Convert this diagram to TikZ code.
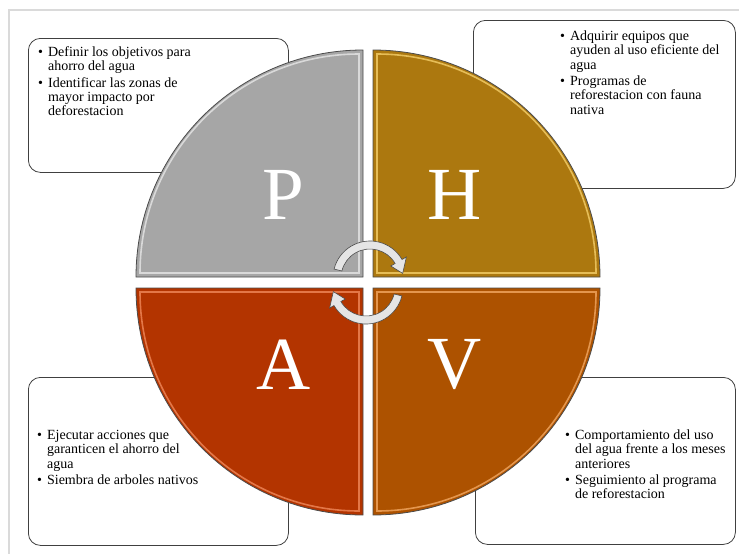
\documentclass[tikz,border=0pt]{standalone}
\usepackage{fontspec}
\setmainfont{Liberation Serif}
\usetikzlibrary{calc}

\definecolor{planC}{HTML}{A6A6A6}
\definecolor{planL}{HTML}{E6E6E6}
\definecolor{doC}{HTML}{AC780F}
\definecolor{doL}{HTML}{F5CF6A}
\definecolor{actC}{HTML}{B33400}
\definecolor{actL}{HTML}{F0885A}
\definecolor{checkC}{HTML}{AD5200}
\definecolor{checkL}{HTML}{F2A862}
\definecolor{frameC}{HTML}{DADADA}

\tikzset{
  note/.style={draw=black!75, line width=0.8pt, rounded corners=12pt, fill=white},
  notetext/.style={anchor=north west, inner sep=0pt, align=left,
    font=\fontsize{14}{14.4}\selectfont},
  letter/.style={text=white, inner sep=0pt, font=\fontsize{75}{75}\selectfont},
  quarter/.style={draw=black!70, line width=0.8pt},
  rim/.style={line width=1.6pt, draw opacity=0.8},
  turn/.style={draw=black!70, line width=0.6pt, fill=black!10},
}

\begin{document}
\begin{tikzpicture}[x=1pt,y=1pt]
   \useasboundingbox (0,0) rectangle (739,-554);
   \draw[frameC, line width=1.5pt] (9,-554) -- (9,-10) -- (739,-10);

   % boxes
   \node[note, anchor=north west, minimum width=260, minimum height=134] (boxP) at (28,-38) {};
   \node[note, anchor=north west, minimum width=262, minimum height=168] (boxH) at (473,-20) {};
   \node[note, anchor=north west, minimum width=260, minimum height=168] (boxA) at (28,-377) {};
   \node[note, anchor=north west, minimum width=260, minimum height=167] (boxV) at (475,-377) {};

   \node[notetext] (txtP) at (38,-46) {\begin{tabular}{@{}l@{\hspace{5pt}}l@{}}
      \textbullet & Definir los objetivos para\\
      & ahorro del agua\\[2pt]
      \textbullet & Identificar las zonas de\\
      & mayor impacto por\\
      & deforestacion
   \end{tabular}};
   \node[notetext] (txtH) at (560,-30) {\begin{tabular}{@{}l@{\hspace{5pt}}l@{}}
      \textbullet & Adquirir equipos que\\
      & ayuden al uso eficiente del\\
      & agua\\[2pt]
      \textbullet & Programas de\\
      & reforestacion con fauna\\
      & nativa
   \end{tabular}};
   \node[notetext] (txtA) at (37,-429) {\begin{tabular}{@{}l@{\hspace{5pt}}l@{}}
      \textbullet & Ejecutar acciones que\\
      & garanticen el ahorro del\\
      & agua\\[2pt]
      \textbullet & Siembra de arboles nativos
   \end{tabular}};
   \node[notetext] (txtV) at (565,-429) {\begin{tabular}{@{}l@{\hspace{5pt}}l@{}}
      \textbullet & Comportamiento del uso\\
      & del agua frente a los meses\\
      & anteriores\\[2pt]
      \textbullet & Seguimiento al programa\\
      & de reforestacion
   \end{tabular}};

   % the four quarters
   \foreach \cx/\cy/\a/\col/\lit/\lx/\ly/\name in {363/277/90/planC/planL/283/195/P,
        373/277/0/doC/doL/455/195/H, 363/288/180/actC/actL/284/365/A,
        373/288/270/checkC/checkL/455/365/V}{
      \draw[quarter, fill=\col] (\cx,-\cy) -- ++(\a:227)
         arc[start angle=\a, end angle=\a+90, radius=227] -- cycle;
      \draw[rim, \lit] ($(\cx,-\cy)+(\a+45:5.66)$) -- ++(\a:219)
         arc[start angle=\a, end angle=\a+90, radius=219] -- cycle;
      \node[letter] (\name) at (\lx,-\ly) {\name};
   }

   % turning arrows
   \foreach \ox/\oy/\rot in {370/278/0, 366/287/180}
      \draw[turn, shift={(\ox,-\oy)}, rotate=\rot] (166:37)
         arc[start angle=166, end angle=30, radius=37] -- (30:42) -- (8:33)
         -- (30:24) -- (30:29) arc[start angle=30, end angle=166, radius=29] -- cycle;
\end{tikzpicture}
\end{document}
